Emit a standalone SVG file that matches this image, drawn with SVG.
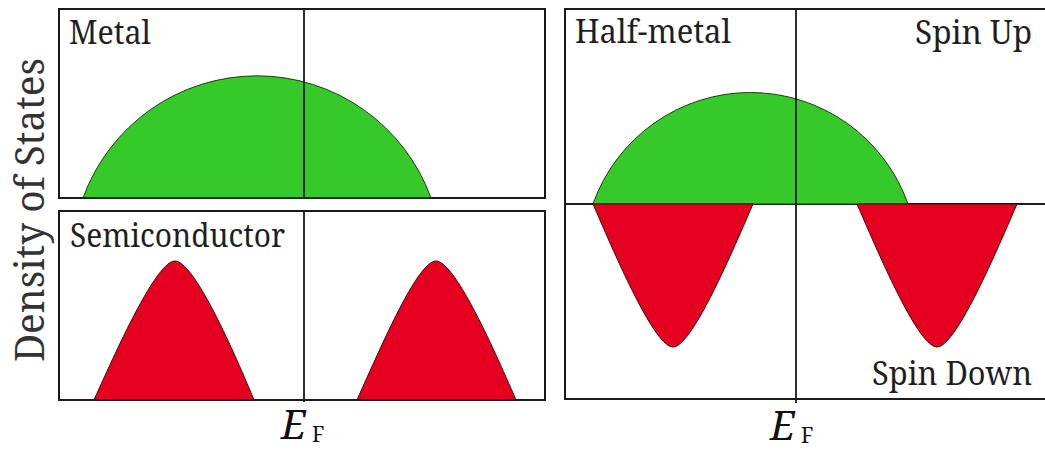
<svg xmlns="http://www.w3.org/2000/svg" width="1045" height="453" viewBox="0 0 1045 453">
<style>
.frame{fill:none;stroke:#1a1a1a;stroke-width:2}
.axis{stroke:#1a1a1a;stroke-width:1.8;fill:none}
.green{fill:#35c92a;stroke:#1f3a10;stroke-width:1}
.red{fill:#e6001f;stroke:#3a0a0a;stroke-width:1}
text{font-family:'Noto Serif','DejaVu Serif','Liberation Serif',serif}
.lbl{font-size:33px;fill:#1f1f1f}
.ef{fill:#111}
</style>
<rect width="1045" height="453" fill="#ffffff"/>

<g id="axis-label">
<text class="lbl" transform="translate(44,362) rotate(-90)" textLength="304" lengthAdjust="spacingAndGlyphs" style="font-size:40px;fill:#333">Density of States</text>
</g>

<g id="metal">
<path class="green" d="M83,198 A185,185 0 0 1 431,198 Z"/>
<rect class="frame" x="59" y="9" width="486" height="189"/>
<line class="axis" x1="304" y1="9" x2="304" y2="198"/>
<text class="lbl" x="69" y="44" textLength="82" lengthAdjust="spacingAndGlyphs">Metal</text>
</g>

<g id="semiconductor">
<path class="red" d="M94,400 C120,342 157,261 175,261 C193,261 230,342 254,400 Z"/>
<path class="red" d="M357,400 C383,342 418,261 436,261 C454,261 491,342 516,400 Z"/>
<rect class="frame" x="59" y="211" width="486" height="189"/>
<line class="axis" x1="304" y1="211" x2="304" y2="402"/>
<text class="lbl" x="70" y="247" textLength="215" lengthAdjust="spacingAndGlyphs">Semiconductor</text>
</g>

<g id="halfmetal">
<line class="axis" x1="565" y1="204" x2="1050" y2="204"/>
<path class="green" d="M593,204 A167,167 0 0 1 908,204 Z"/>
<path class="red" d="M593,204 C618,262 655,347 673,347 C691,347 728,262 753,204 Z"/>
<path class="red" d="M857,204 C882,262 919,347 937,347 C955,347 992,262 1017,204 Z"/>
<rect class="frame" x="565" y="9" width="490" height="390"/>
<line class="axis" x1="796" y1="9" x2="796" y2="403"/>
<text class="lbl" x="575" y="43" textLength="156" lengthAdjust="spacingAndGlyphs">Half-metal</text>
<text class="lbl" x="915" y="44" textLength="117" lengthAdjust="spacingAndGlyphs">Spin Up</text>
<text class="lbl" x="872" y="385" textLength="160" lengthAdjust="spacingAndGlyphs">Spin Down</text>
</g>

<g id="fermi-labels">
<text class="ef" x="281" y="439" style="font-size:40px;font-style:italic">E</text>
<text class="ef" x="312" y="442" style="font-size:21px">F</text>
<text class="ef" x="770" y="440" style="font-size:40px;font-style:italic">E</text>
<text class="ef" x="801" y="443" style="font-size:21px">F</text>
</g>

<g id="connectors"></g>
</svg>
